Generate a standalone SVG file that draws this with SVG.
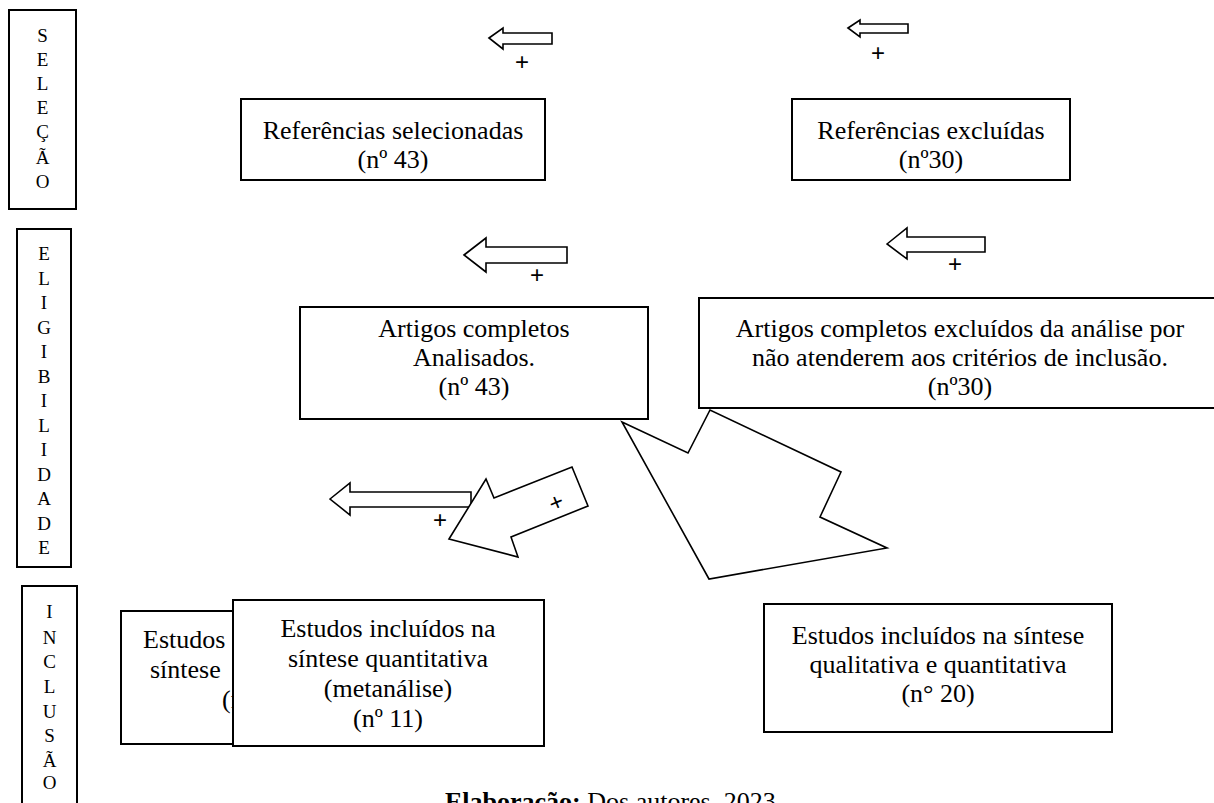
<svg xmlns="http://www.w3.org/2000/svg" width="1214" height="803" viewBox="0 0 1214 803">
<style>
.box{fill:#fff;stroke:#000;stroke-width:2}
.arr{fill:#fff;stroke:#000;stroke-width:1.6;stroke-linejoin:miter}
.t{font-family:"Liberation Serif","Times New Roman",serif;font-size:26px;fill:#000;text-anchor:middle}
.tl{font-family:"Liberation Serif","Times New Roman",serif;font-size:26px;fill:#000}
.s{font-family:"Liberation Serif","Times New Roman",serif;font-size:19px;fill:#000;text-anchor:middle}
.p{font-family:"Liberation Sans",Arial,sans-serif;font-size:24px;fill:#000;text-anchor:middle;dominant-baseline:central}
</style>
<rect width="1214" height="803" fill="#fff"/>

<g id="stage-selecao">
<rect class="box" x="9" y="10" width="67" height="199"/>
<text class="s" x="42.5" y="42">S</text><text class="s" x="42.5" y="66">E</text><text class="s" x="42.5" y="90">L</text><text class="s" x="42.5" y="114">E</text><text class="s" x="42.5" y="138">Ç</text><text class="s" x="42.5" y="164">Ã</text><text class="s" x="42.5" y="188">O</text>
</g>
<g id="stage-eligibilidade">
<rect class="box" x="17" y="229" width="54" height="338"/>
<text class="s" x="44" y="260">E</text><text class="s" x="44" y="285">L</text><text class="s" x="44" y="309">I</text><text class="s" x="44" y="334">G</text><text class="s" x="44" y="358">I</text><text class="s" x="44" y="383">B</text><text class="s" x="44" y="407">I</text><text class="s" x="44" y="432">L</text><text class="s" x="44" y="456">I</text><text class="s" x="44" y="481">D</text><text class="s" x="44" y="505">A</text><text class="s" x="44" y="530">D</text><text class="s" x="44" y="554">E</text>
</g>
<g id="stage-inclusao">
<rect class="box" x="22" y="586" width="55" height="240"/>
<text class="s" x="49.5" y="618">I</text><text class="s" x="49.5" y="644">N</text><text class="s" x="49.5" y="668">C</text><text class="s" x="49.5" y="693">L</text><text class="s" x="49.5" y="718">U</text><text class="s" x="49.5" y="742">S</text><text class="s" x="49.5" y="767">Ã</text><text class="s" x="49.5" y="789">O</text>
</g>

<g id="ref-selecionadas">
<rect class="box" x="241" y="99" width="304" height="81"/>
<text class="t" x="393" y="139">Referências selecionadas</text>
<text class="t" x="393" y="168">(nº 43)</text>
</g>
<g id="ref-excluidas">
<rect class="box" x="792" y="99" width="278" height="81"/>
<text class="t" x="931" y="139">Referências excluídas</text>
<text class="t" x="931" y="168">(nº30)</text>
</g>
<g id="artigos-analisados">
<rect class="box" x="300" y="307" width="348" height="112"/>
<text class="t" x="474" y="337">Artigos completos</text>
<text class="t" x="474" y="366">Analisados.</text>
<text class="t" x="474" y="395">(nº 43)</text>
</g>
<g id="artigos-excluidos">
<rect class="box" x="699" y="298" width="524" height="110"/>
<text class="t" x="960" y="337">Artigos completos excluídos da análise por</text>
<text class="t" x="960" y="366">não atenderem aos critérios de inclusão.</text>
<text class="t" x="960" y="395">(nº30)</text>
</g>

<g id="connectors">
<polygon class="arr" points="489,38 503,28 503,33 552,33 552,44 503,44 503,49"/>
<text class="p" x="522" y="61">+</text>
<polygon class="arr" points="848,28 860,20 860,24 908,24 908,33 860,33 860,37"/>
<text class="p" x="878" y="52">+</text>
<polygon class="arr" points="464,255 486,238 486,247 567,247 567,263 486,263 486,272"/>
<text class="p" x="537" y="274">+</text>
<polygon class="arr" points="887,244 907,228 907,237 985,237 985,252 907,252 907,259"/>
<text class="p" x="955" y="263">+</text>
<polygon class="arr" points="330,499 350,483 350,492 471,492 471,507 350,507 350,515"/>
<text class="p" x="440" y="519">+</text>
<polygon class="arr" points="449,539 486,479 494,498 572,467 588,506 511,537 518,557"/>
<text class="p" x="556" y="502" transform="rotate(-22 556 502)">+</text>
<polygon class="arr" points="622,422 688,453 710,410 841,472 820,517 887,548 709,579"/>
</g>

<g id="estudos-back">
<rect class="box" x="121" y="611" width="300" height="133"/>
<text class="tl" x="143" y="648">Estudos</text>
<text class="tl" x="150" y="678">síntese</text>
<text class="tl" x="222" y="708">(n</text>
</g>
<g id="estudos-quantitativa">
<rect class="box" x="233" y="600" width="311" height="146"/>
<text class="t" x="388" y="637">Estudos incluídos na</text>
<text class="t" x="388" y="667">síntese quantitativa</text>
<text class="t" x="388" y="697">(metanálise)</text>
<text class="t" x="388" y="727">(nº 11)</text>
</g>
<g id="estudos-qualitativa">
<rect class="box" x="764" y="604" width="348" height="128"/>
<text class="t" x="938" y="644">Estudos incluídos na síntese</text>
<text class="t" x="938" y="673">qualitativa e quantitativa</text>
<text class="t" x="938" y="702">(n° 20)</text>
</g>

<text class="tl" x="445" y="810"><tspan font-weight="bold">Elaboração:</tspan> Dos autores, 2023.</text>
</svg>
